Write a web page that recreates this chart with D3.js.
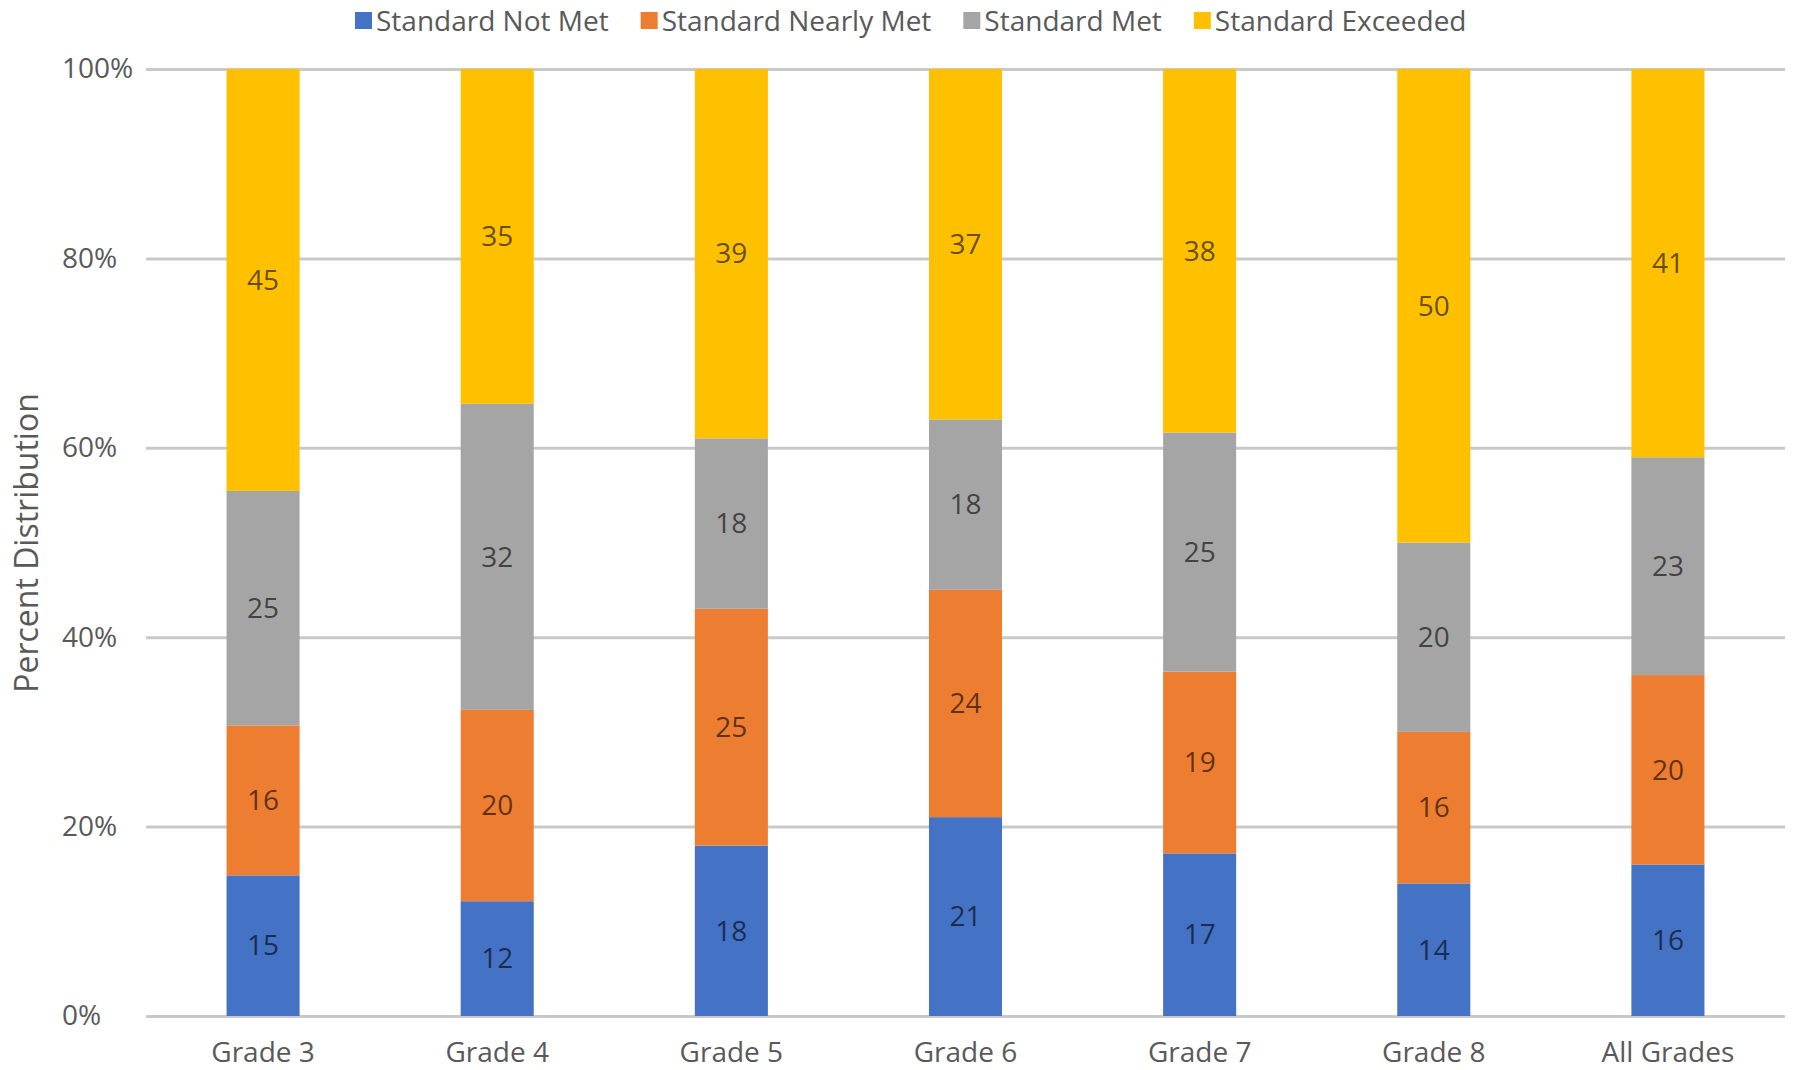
<!DOCTYPE html>
<html>
<head>
<meta charset="utf-8">
<script src="https://cdn.jsdelivr.net/npm/d3@7"></script>
<style>
	body { margin: 0; background: #fff; }
	text { font-family: "Open Sans", sans-serif; }
</style>
</head>
<body>
<div class="container"></div>
<script>
// values (percent, bottom to top)
var grades = ['Grade 3', 'Grade 4', 'Grade 5', 'Grade 6', 'Grade 7', 'Grade 8', 'All Grades'];
var levels = ['Standard Not Met', 'Standard Nearly Met', 'Standard Met', 'Standard Exceeded'];
var notMet = [15, 12, 18, 21, 17, 14, 16];
var nearlyMet = [16, 20, 25, 24, 19, 16, 20];
var met = [25, 32, 18, 18, 25, 20, 23];
var exceeded = [45, 35, 39, 37, 38, 50, 41];
var yTicks = [0, 0.2, 0.4, 0.6, 0.8, 1];
var colors = ['#4472C4', '#ED7D31', '#A5A5A5', '#FFC000'];

const WIDTH = 1797;
const HEIGHT = 1070;
const LEFT = 146;
const RIGHT = 1785;
const TOP = 69;
const BOTTOM = 1016;

var rows = grades.map(function(g, i){
	var r = {grade: g};
	r[levels[0]] = notMet[i];
	r[levels[1]] = nearlyMet[i];
	r[levels[2]] = met[i];
	r[levels[3]] = exceeded[i];
	return r;
});

var series = d3.stack().keys(levels).offset(d3.stackOffsetExpand)(rows);

var svg = d3.select('.container').append('svg')
	.attr('width', WIDTH)
	.attr('height', HEIGHT);

var xScale = d3.scaleBand()
	.domain(grades)
	.range([LEFT, RIGHT])
	.paddingInner(0.688)
	.paddingOuter(0.344);

var yScale = d3.scaleLinear()
	.domain([0, 1])
	.range([BOTTOM, TOP]);

var color = d3.scaleOrdinal().domain(levels).range(colors);

// y axis with gridlines
var yAxis = d3.axisLeft(yScale)
	.tickValues(yTicks)
	.tickFormat(d3.format('.0%'))
	.tickSize(-(RIGHT - LEFT));

var yg = svg.append('g')
	.attr('transform', 'translate(' + LEFT + ',0)')
	.call(yAxis);
yg.select('.domain').remove();
yg.selectAll('line').attr('stroke', '#c9c9c9').attr('stroke-width', 3);
yg.selectAll('text')
	.attr('x', 62 - LEFT)
	.attr('text-anchor', 'start')
	.attr('font-size', 28)
	.attr('fill', '#595959')
	.style('font-family', '"Open Sans", sans-serif');

// bars
var groups = svg.append('g').selectAll('g')
	.data(series)
	.enter().append('g')
	.attr('fill', function(s){ return color(s.key); });

groups.selectAll('rect')
	.data(function(s){ return s; })
	.enter().append('rect')
	.attr('x', function(d){ return xScale(d.data.grade); })
	.attr('y', function(d){ return yScale(d[1]); })
	.attr('width', xScale.bandwidth())
	.attr('height', function(d){ return yScale(d[0]) - yScale(d[1]); });

// data labels
series.forEach(function(s){
	svg.append('g').selectAll('text')
		.data(s)
		.enter().append('text')
		.attr('x', function(d){ return xScale(d.data.grade) + xScale.bandwidth() / 2; })
		.attr('y', function(d){ return yScale((d[0] + d[1]) / 2); })
		.attr('dy', '0.35em')
		.attr('text-anchor', 'middle')
		.attr('font-size', 28)
		.attr('fill', '#000')
		.attr('fill-opacity', 0.62)
		.text(function(d){ return d.data[s.key]; });
});

// x axis labels
var xAxis = d3.axisBottom(xScale).tickSize(0).tickPadding(0);
var xg = svg.append('g')
	.attr('transform', 'translate(0,' + BOTTOM + ')')
	.call(xAxis);
xg.select('.domain').remove();
xg.selectAll('text')
	.attr('y', 36)
	.attr('dy', '0.35em')
	.attr('font-size', 28)
	.attr('fill', '#595959')
	.style('font-family', '"Open Sans", sans-serif');

// y axis title
svg.append('text')
	.attr('transform', 'translate(27,543) rotate(-90)')
	.attr('dy', '0.35em')
	.attr('text-anchor', 'middle')
	.attr('font-size', 32)
	.attr('fill', '#595959')
	.text('Percent Distribution');

// legend
var legend = svg.append('g');
var lx = 355;
levels.forEach(function(k){
	legend.append('rect')
		.attr('x', lx)
		.attr('y', 12)
		.attr('width', 17)
		.attr('height', 17)
		.attr('fill', color(k));
	var t = legend.append('text')
		.attr('x', lx + 21)
		.attr('y', 21)
		.attr('dy', '0.35em')
		.attr('font-size', 28)
		.attr('fill', '#595959')
		.text(k);
	lx += 21 + t.node().getComputedTextLength() + 32;
});
</script>
</body>
</html>
